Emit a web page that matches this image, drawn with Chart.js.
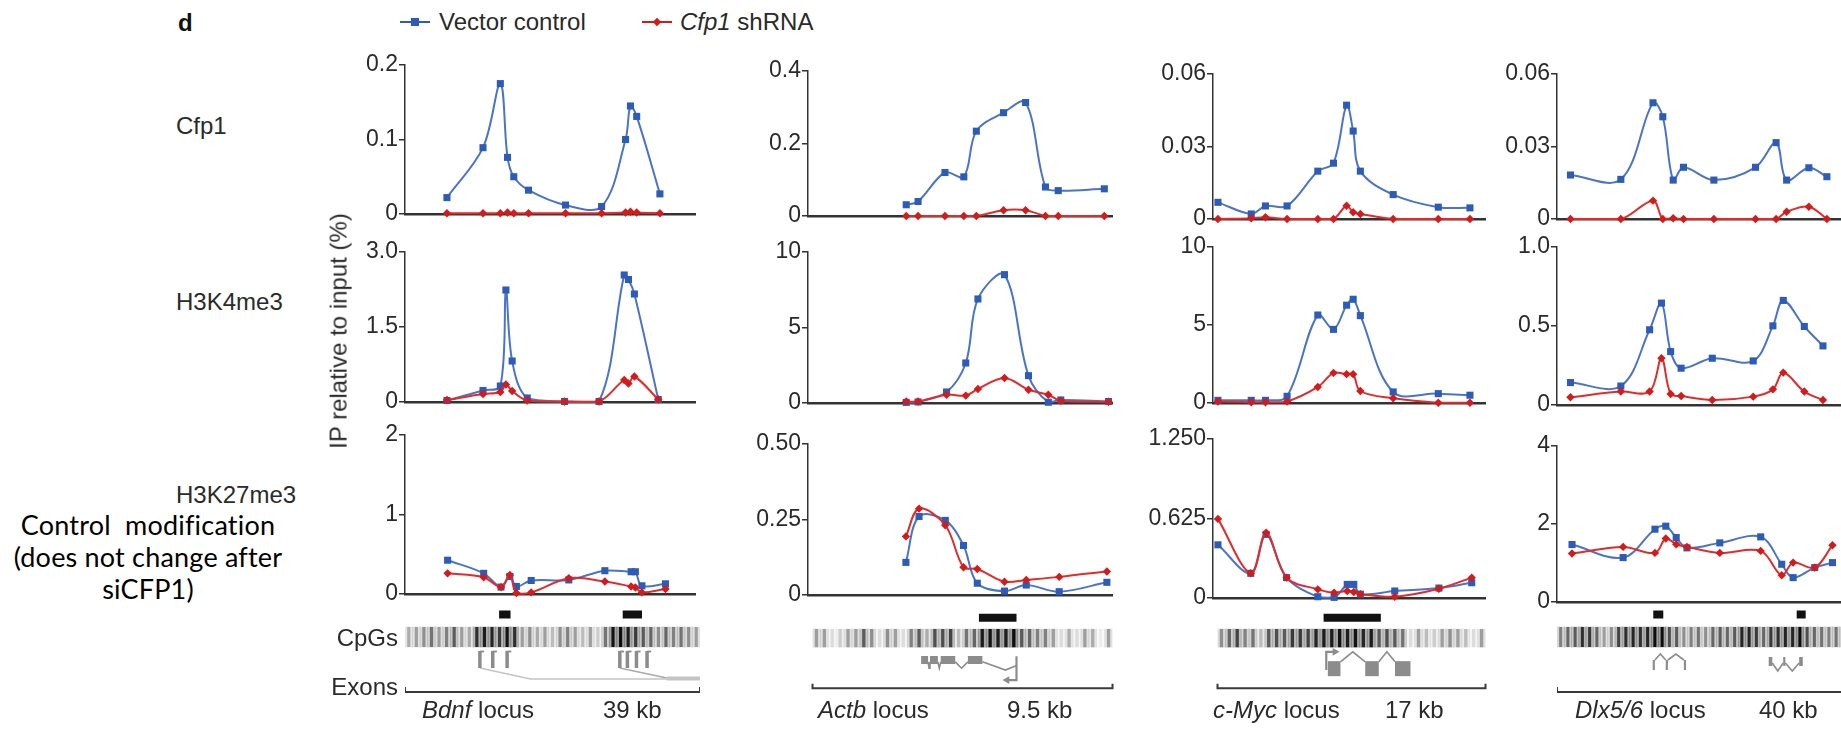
<!DOCTYPE html>
<html><head><meta charset="utf-8">
<script src="https://cdn.jsdelivr.net/npm/chart.js@4.4.0/dist/chart.umd.min.js"></script>
<style>
html,body{margin:0;padding:0;background:#fff;}
body{width:1841px;height:730px;overflow:hidden;position:relative;font-family:"Liberation Sans",Arial,sans-serif;color:#2a2a2a;}
.box{position:absolute;}
.box canvas{display:block;}
.t{position:absolute;white-space:nowrap;line-height:1.2;font-size:24px;transform:translateY(-50%);}
</style></head><body>
<script>
// ================= DATA =================
const rowLabels = ['Cfp1', 'H3K4me3', 'H3K27me3'];
const locusNames = ['Bdnf', 'Actb', 'c-Myc', 'Dlx5/6'];
const locusSizes = [39, 9.5, 17, 40];            // kb
const locusSizeLabels = ['39 kb', '9.5 kb', '17 kb', '40 kb'];
const seriesNames = ['Vector control', 'Cfp1 shRNA'];

// y ticks per column, rows: Cfp1, H3K4me3, H3K27me3
const bdnfTicks = [[0, 0.1, 0.2], [0, 1.5, 3.0], [0, 1, 2]];
const bdnfTickLabels = [['0', '0.1', '0.2'], ['0', '1.5', '3.0'], ['0', '1', '2']];
const actbTicks = [[0, 0.2, 0.4], [0, 5, 10], [0, 0.25, 0.5]];
const actbTickLabels = [['0', '0.2', '0.4'], ['0', '5', '10'], ['0', '0.25', '0.50']];
const mycTicks = [[0, 0.03, 0.06], [0, 5, 10], [0, 0.625, 1.25]];
const mycTickLabels = [['0', '0.03', '0.06'], ['0', '5', '10'], ['0', '0.625', '1.250']];
const dlxTicks = [[0, 0.03, 0.06], [0, 0.5, 1.0], [0, 2, 4]];
const dlxTickLabels = [['0', '0.03', '0.06'], ['0', '0.5', '1.0'], ['0', '2', '4']];

// ---- Bdnf locus (positions in kb) ----
const bdnfCfp1Kb = [5.64, 10.49, 12.82, 13.79, 14.63, 16.61, 21.59, 26.44, 29.66, 30.32, 31.16, 34.28];
const bdnfCfp1Vector = [0.022, 0.089, 0.175, 0.076, 0.050, 0.032, 0.012, 0.010, 0.100, 0.145, 0.131, 0.027];
const bdnfCfp1Sh = [0.001, 0.001, 0.001, 0.002, 0.001, 0.001, 0.001, 0.001, 0.002, 0.003, 0.002, 0.001];
const bdnfK4Kb = [5.64, 10.49, 12.82, 13.57, 14.41, 16.44, 21.46, 26.09, 29.48, 30.05, 30.85, 34.06];
const bdnfK4Vector = [0.03, 0.23, 0.32, 2.24, 0.82, 0.08, 0.01, 0.01, 2.54, 2.45, 2.16, 0.05];
const bdnfK4Sh = [0.04, 0.16, 0.20, 0.35, 0.22, 0.03, 0.01, 0.01, 0.44, 0.37, 0.51, 0.05];
const bdnfK27Kb = [5.73, 10.58, 12.91, 14.10, 14.98, 16.97, 22.03, 26.88, 30.41, 30.98, 31.86, 35.03];
const bdnfK27Vector = [0.425, 0.26, 0.087, 0.22, 0.095, 0.17, 0.177, 0.293, 0.28, 0.28, 0.103, 0.128];
const bdnfK27Sh = [0.26, 0.21, 0.087, 0.24, 0.012, 0.02, 0.198, 0.157, 0.095, 0.082, 0.02, 0.062];

// ---- Actb locus ----
const actbCfp1Kb = [3.07, 3.44, 4.28, 4.87, 5.26, 6.11, 6.80, 7.42, 7.82, 9.26];
const actbCfp1Vector = [0.031, 0.040, 0.120, 0.108, 0.234, 0.285, 0.313, 0.080, 0.070, 0.075];
const actbCfp1Sh = [0, 0, 0, 0, 0, 0.016, 0.016, 0, 0, 0];
const actbK4Kb = [3.07, 3.44, 4.33, 4.93, 5.31, 6.14, 6.89, 7.51, 7.90, 9.39];
const actbK4Vector = [0.04, 0.07, 0.73, 2.65, 6.89, 8.5, 1.81, 0.05, 0.2, 0.1];
const actbK4Sh = [0.1, 0.1, 0.55, 0.49, 0.93, 1.66, 0.88, 0.55, 0.15, 0.08];
const actbK27Kb = [3.06, 3.47, 4.29, 4.86, 5.29, 6.14, 6.82, 7.85, 9.34];
const actbK27Vector = [0.108, 0.26, 0.247, 0.164, 0.039, 0.013, 0.033, 0.011, 0.042];
const actbK27Sh = [0.194, 0.286, 0.231, 0.092, 0.086, 0.044, 0.05, 0.06, 0.078];

// ---- c-Myc locus ----
const mycKb = [0.31, 2.39, 3.28, 4.63, 6.55, 7.53, 8.35, 8.76, 9.21, 11.26, 14.08, 16.06];
const mycCfp1Vector = [0.0069, 0.0021, 0.0054, 0.0054, 0.0198, 0.0231, 0.0471, 0.0364, 0.0198, 0.0101, 0.0049, 0.0046];
const mycCfp1Sh = [0, 0.0003, 0.0007, 0, 0, 0, 0.0055, 0.0028, 0.0021, 0, 0, 0];
const mycK4Vector = [0.17, 0.17, 0.17, 0.43, 5.64, 4.72, 6.27, 6.65, 5.6, 0.71, 0.6, 0.5];
const mycK4Sh = [0.1, 0.05, 0.05, 0.1, 1.03, 1.93, 1.85, 1.85, 0.77, 0.3, 0.02, 0.02];
const mycK27Kb = [0.31, 2.36, 3.32, 4.60, 6.55, 7.57, 8.39, 8.80, 9.21, 11.36, 14.12, 16.17];
const mycK27Vector = [0.418, 0.194, 0.50, 0.16, 0.01, 0.005, 0.107, 0.107, 0.03, 0.055, 0.078, 0.12];
const mycK27Sh = [0.622, 0.194, 0.513, 0.16, 0.068, 0.042, 0.055, 0.047, 0.03, 0.01, 0.073, 0.16];

// ---- Dlx5/6 locus ----
const dlxCfp1Kb = [1.89, 8.96, 13.47, 14.85, 16.31, 17.75, 22.02, 27.86, 30.75, 32.23, 35.35, 37.88];
const dlxCfp1Vector = [0.0182, 0.0164, 0.0481, 0.0423, 0.0161, 0.0214, 0.0161, 0.0214, 0.0316, 0.0161, 0.0212, 0.0175];
const dlxCfp1Sh = [0, 0, 0.0076, 0, 0.0003, 0, 0, 0, 0, 0.003, 0.0051, 0];
const dlxK4Kb = [1.89, 8.96, 13.00, 14.66, 15.95, 17.42, 21.79, 27.54, 30.30, 31.76, 34.71, 37.33];
const dlxK4Vector = [0.142, 0.12, 0.476, 0.645, 0.338, 0.233, 0.296, 0.279, 0.501, 0.662, 0.497, 0.374];
const dlxK4Sh = [0.049, 0.085, 0.085, 0.296, 0.07, 0.057, 0.032, 0.053, 0.099, 0.205, 0.085, 0.032];
const dlxK27Kb = [2.11, 9.28, 13.75, 15.27, 16.73, 18.24, 22.85, 28.59, 31.54, 33.14, 36.17, 38.66];
const dlxK27Vector = [1.473, 1.139, 1.867, 1.944, 1.653, 1.388, 1.516, 1.67, 0.968, 0.625, 0.882, 1.01];
const dlxK27Sh = [1.242, 1.413, 1.259, 1.627, 1.482, 1.413, 1.259, 1.31, 0.685, 1.01, 0.882, 1.456];

// ---- CpG density (0..1) in equal bins across each locus ----
const bdnfCpG = [0.25,0.3,0.35,0.45,0.3,0.4,0.55,0.3,0.25,0.75,0.85,0.8,0.7,0.9,0.75,0.3,0.35,0.25,0.3,0.2,0.35,0.4,0.3,0.2,0.3,0.15,0.45,0.9,0.95,0.85,0.7,0.55,0.5,0.35,0.5,0.4,0.45,0.35,0.3];
const actbCpG = [0.3,0.3,0.1,0.15,0.3,0.3,0.55,0.35,0.1,0.35,0.3,0.1,0.4,0.55,0.25,0.6,0.6,0.65,0.2,0.45,0.5,0.85,0.9,0.85,0.85,0.95,0.55,0.5,0.4,0.4,0.3,0.1,0.25,0.1,0.3,0.25,0.05,0.3];
const mycCpG = [0.35,0.5,0.65,0.4,0.45,0.2,0.55,0.6,0.55,0.7,0.7,0.65,0.8,0.85,0.85,0.9,0.85,0.9,0.8,0.85,0.55,0.6,0.55,0.45,0.1,0.3,0.2,0.15,0.3,0.35,0.3,0.2,0.1,0.3];
const dlxCpG = [0.4,0.5,0.55,0.75,0.7,0.5,0.3,0.35,0.65,0.75,0.8,0.75,0.8,0.95,0.95,0.6,0.55,0.35,0.4,0.45,0.35,0.5,0.55,0.5,0.55,0.8,0.8,0.7,0.5,0.7,0.75,0.8,0.8,0.95,0.6,0.5,0.45,0.4,0.45,0.4];

// ---- CpG islands [start, end] kb ----
const bdnfIslands = [[12.44, 13.95], [28.78, 31.33]];
const actbIslands = [[5.27, 6.46]];
const mycIslands = [[6.73, 10.36]];
const dlxIslands = [[13.28, 14.66], [33.06, 34.30]];

// ---- gene models (kb) ----
const bdnfPromoterExons = [9.9, 11.6, 13.5, 28.4, 29.4, 30.6, 32.0];
const bdnfSpliceJoins = [16.6, 34.6];
const bdnfLastExon = [34.6, 39.2];
const actbExons = [[3.44, 3.66], [3.72, 3.97], [4.06, 4.52], [4.92, 5.38]];
const actbTss = 6.46;
const mycExons = [[7.0, 7.8], [9.37, 10.23], [11.26, 12.24]];
const mycTss = 6.9;
const dlx6Exons = [[13.2, 13.5], [15.0, 15.3], [17.5, 17.8]];
const dlx5Exons = [[29.2, 29.7], [31.2, 31.5], [33.4, 33.9]];

// ================= LAYOUT / STYLE =================
const FONT = '"Liberation Sans", Arial, sans-serif';
const TXT = '#2a2a2a';
const AXIS = '#333333';
const BLUE_LINE = '#4a74c9', BLUE_PT = '#2c5bb8';
const RED_LINE = '#e52a2a', RED_PT = '#d41a1a';
const AXW = 80, PAD = 15;
const colX = [[405, 700], [808, 1117], [1213, 1490], [1557, 1847]];
const panelY = [
  [[65, 213.5], [71, 216], [74, 218.5], [74, 219]],
  [[252, 401.5], [252, 403], [247, 402.7], [247, 404.5]],
  [[435, 594.3], [443.5, 594.3], [439.3, 598.7], [446, 601.5]]
];
const ANN_TOP = 600, ANN_H = 100;
const LANE = {island: 14.5, cpgTop: 27, cpgBot: 47, brTop: 87, br: 92};
const GENE = '#8c8c8c', GENE_LIGHT = '#c4c4c4';

function makeBox(left, top, w, h) {
  const d = document.createElement('div');
  d.className = 'box';
  d.style.left = Math.round(left) + 'px';
  d.style.top = Math.round(top) + 'px';
  d.style.width = Math.round(w) + 'px';
  d.style.height = Math.round(h) + 'px';
  const c = document.createElement('canvas');
  d.appendChild(c);
  document.body.appendChild(d);
  return c;
}

function dataPanel(col, row, kb, vec, sh, ticks, labels) {
  const [x0, x1] = colX[col];
  const [yt, yb] = panelY[row][col];
  const left = x0 - AXW;
  const cv = makeBox(left, yt - PAD, x1 - left, yb - yt + 2 * PAD);
  const pts = v => kb.map((x, i) => ({x: x, y: v[i]}));
  new Chart(cv, {
    type: 'line',
    data: {datasets: [
      {label: seriesNames[1], data: pts(sh), borderColor: RED_LINE, backgroundColor: RED_PT,
       pointBackgroundColor: RED_PT, pointBorderColor: RED_PT, pointStyle: 'rectRot', pointRadius: 4.2,
       pointBorderWidth: 0, borderWidth: 2, tension: 0.35, clip: false},
      {label: seriesNames[0], data: pts(vec), borderColor: BLUE_LINE, backgroundColor: BLUE_PT,
       pointBackgroundColor: BLUE_PT, pointBorderColor: BLUE_PT, pointStyle: 'rect', pointRadius: 5,
       pointBorderWidth: 0, borderWidth: 2, tension: 0.35, clip: false}
    ]},
    options: {
      animation: false, responsive: true, maintainAspectRatio: false,
      layout: {padding: {top: PAD, bottom: PAD, left: 0, right: 0}},
      plugins: {legend: {display: false}, tooltip: {enabled: false}},
      scales: {
        x: {type: 'linear', min: 0, max: locusSizes[col], offset: false,
            grid: {display: false, drawTicks: false}, ticks: {display: false},
            border: {display: true, color: AXIS, width: 2.5},
            afterFit: s => { s.height = 0; }},
        y: {type: 'linear', min: 0, max: ticks[ticks.length - 1],
            afterBuildTicks: s => { s.ticks = ticks.map(v => ({value: v})); },
            afterFit: s => { s.width = AXW; },
            ticks: {callback: (v, i) => labels[i], font: {family: FONT, size: 23}, color: TXT, padding: 1},
            grid: {drawOnChartArea: false, drawTicks: true, tickLength: 6, color: AXIS, lineWidth: 1.5},
            border: {display: true, color: AXIS, width: 1.5}}
      }
    }
  });
}

function seg(points, color, width, extra) {
  return Object.assign({type: 'line', data: points.map(p => ({x: p[0], y: p[1]})),
    borderColor: color, backgroundColor: color, borderWidth: width, pointRadius: 0,
    tension: 0, clip: false, borderCapStyle: 'butt', borderJoinStyle: 'miter', fill: false, order: 0}, extra || {});
}
function arrowHead(x, y, rot) {
  return {type: 'line', data: [{x: x, y: y}], showLine: false, pointStyle: 'triangle', pointRadius: 4.5,
    pointRotation: rot, pointBackgroundColor: GENE, pointBorderColor: GENE, borderWidth: 0, clip: false, order: 0};
}
function introns(exons, kind, base, depth) {
  const out = [];
  for (let i = 0; i < exons.length - 1; i++) {
    const a = exons[i][1], b = exons[i + 1][0];
    out.push(seg([[a, base], [(a + b) / 2, kind === 'hat' ? base - depth : base + depth], [b, base]], GENE, 1.6));
  }
  return out;
}
function exonBars(exons, top, bot) {
  return exons.map(e => seg([[e[0], (top + bot) / 2], [e[1], (top + bot) / 2]], GENE, bot - top));
}

function annotation(col, cpg, islands, genes) {
  const [x0, x1] = colX[col];
  const L = locusSizes[col];
  const cv = makeBox(x0, ANN_TOP, x1 - x0, ANN_H);
  const bw = L / cpg.length;
  const bins = () => cpg.map((a, i) => ({x: (i + 0.5) * bw, y: [LANE.cpgTop, LANE.cpgBot]}));
  const datasets = [
    {type: 'bar', data: bins(), backgroundColor: cpg.map(a => 'rgba(30,30,30,' + (a * 0.45).toFixed(3) + ')'),
     barPercentage: 1, categoryPercentage: 1, grouped: false, order: 6},
    {type: 'bar', data: bins(), backgroundColor: cpg.map(a => 'rgba(12,12,12,' + Math.min(1, a * 1.05).toFixed(3) + ')'),
     barPercentage: 0.42, categoryPercentage: 1, grouped: false, order: 5}
  ];
  islands.forEach(r => datasets.push(seg([[r[0], LANE.island], [r[1], LANE.island]], '#111', 8)));
  datasets.push(seg([[0, LANE.brTop], [0, LANE.br], [L, LANE.br], [L, LANE.brTop]], '#3a3a3a', 2));
  genes.forEach(g => datasets.push(g));
  new Chart(cv, {
    type: 'bar',
    data: {datasets: datasets},
    options: {
      animation: false, responsive: true, maintainAspectRatio: false,
      layout: {padding: 0},
      plugins: {legend: {display: false}, tooltip: {enabled: false}},
      scales: {
        x: {type: 'linear', min: 0, max: L, offset: false, display: false},
        y: {type: 'linear', min: 0, max: ANN_H, reverse: true, display: false}
      }
    }
  });
}

// ---- panels ----
const cols = [
  {rows: [[bdnfCfp1Kb, bdnfCfp1Vector, bdnfCfp1Sh], [bdnfK4Kb, bdnfK4Vector, bdnfK4Sh], [bdnfK27Kb, bdnfK27Vector, bdnfK27Sh]], ticks: bdnfTicks, labels: bdnfTickLabels},
  {rows: [[actbCfp1Kb, actbCfp1Vector, actbCfp1Sh], [actbK4Kb, actbK4Vector, actbK4Sh], [actbK27Kb, actbK27Vector, actbK27Sh]], ticks: actbTicks, labels: actbTickLabels},
  {rows: [[mycKb, mycCfp1Vector, mycCfp1Sh], [mycKb, mycK4Vector, mycK4Sh], [mycK27Kb, mycK27Vector, mycK27Sh]], ticks: mycTicks, labels: mycTickLabels},
  {rows: [[dlxCfp1Kb, dlxCfp1Vector, dlxCfp1Sh], [dlxK4Kb, dlxK4Vector, dlxK4Sh], [dlxK27Kb, dlxK27Vector, dlxK27Sh]], ticks: dlxTicks, labels: dlxTickLabels}
];
cols.forEach((c, ci) => c.rows.forEach((r, ri) => dataPanel(ci, ri, r[0], r[1], r[2], c.ticks[ri], c.labels[ri])));

// ---- gene tracks ----
const bdnfGenes = [];
bdnfPromoterExons.forEach(k => {
  bdnfGenes.push(seg([[k, 51], [k, 68]], GENE, 3.5));
  bdnfGenes.push(seg([[k, 51.5], [k + 0.55, 51.5]], GENE, 1.8));
});
bdnfGenes.push(seg([[bdnfPromoterExons[0], 68], [bdnfSpliceJoins[0], 79], [bdnfLastExon[1], 79]], GENE_LIGHT, 1.6));
bdnfGenes.push(seg([[bdnfPromoterExons[3], 68], [bdnfSpliceJoins[1], 78]], '#aaaaaa', 1.6));
bdnfGenes.push(seg([[bdnfLastExon[0], 78.5], [bdnfLastExon[1], 78.5]], GENE_LIGHT, 4));

const actbGenes = exonBars(actbExons, 57, 65)
  .concat(introns(actbExons, 'vee', 63, 7))
  .concat([seg([[actbExons[actbExons.length - 1][1], 63], [actbTss - 0.35, 72], [actbTss, 67]], GENE, 1.6),
           seg([[actbTss, 57], [actbTss, 83], [actbTss - 0.25, 83]], GENE, 2.2),
           arrowHead(actbTss - 0.3, 83, 270)]);

const mycGenes = exonBars(mycExons, 63, 78)
  .concat(introns(mycExons, 'hat', 63, 11))
  .concat([seg([[mycTss, 72], [mycTss, 52], [mycTss + 0.45, 52]], GENE, 2.2),
           arrowHead(mycTss + 0.55, 52, 90)]);

const dlxGenes = exonBars(dlx6Exons, 60, 70).concat(introns(dlx6Exons, 'hat', 60, 6))
  .concat(exonBars(dlx5Exons, 57, 66)).concat(introns(dlx5Exons, 'vee', 63, 8));

annotation(0, bdnfCpG, bdnfIslands, bdnfGenes);
annotation(1, actbCpG, actbIslands, actbGenes);
annotation(2, mycCpG, mycIslands, mycGenes);
annotation(3, dlxCpG, dlxIslands, dlxGenes);

// ---- text ----
function text(html, left, cy, style) {
  const d = document.createElement('div');
  d.className = 't';
  d.innerHTML = html;
  d.style.left = left + 'px';
  d.style.top = cy + 'px';
  if (style) d.style.cssText += style;
  document.body.appendChild(d);
  return d;
}
text('d', 178, 23, 'font-weight:bold;font-size:24px;color:#111;');
const rowY = [126, 302, 495];
rowLabels.forEach((s, i) => text(s, 176, rowY[i]));
text('CpGs', 398, 638, 'transform:translate(-100%,-50%);');
text('Exons', 398, 687, 'transform:translate(-100%,-50%);');
const locusX = [422, 818, 1213, 1575];
const sizeX = [603, 1007, 1385, 1759];
locusNames.forEach((n, i) => {
  text('<i>' + n + '</i> locus', locusX[i], 710);
  text(locusSizeLabels[i], sizeX[i], 710);
});
// y-axis title
const yt = document.createElement('div');
yt.textContent = 'IP relative to input (%)';
yt.style.cssText = 'position:absolute;left:339px;top:331px;font-size:24px;line-height:1.2;white-space:nowrap;transform:translate(-50%,-50%) rotate(-90deg);color:#2a2a2a;';
document.body.appendChild(yt);
// legend
function legendMark(x, color, diamond) {
  const l = document.createElement('div');
  l.style.cssText = 'position:absolute;left:' + x + 'px;top:21px;width:30px;height:2px;background:' + color + ';';
  document.body.appendChild(l);
  const m = document.createElement('div');
  const s = diamond ? 6 : 8;
  m.style.cssText = 'position:absolute;left:' + (x + 15 - s / 2) + 'px;top:' + (22 - s / 2) + 'px;width:' + s + 'px;height:' + s + 'px;background:' + color + ';' + (diamond ? 'transform:rotate(45deg);' : '');
  document.body.appendChild(m);
}
legendMark(400, BLUE_PT, false);
text(seriesNames[0], 439, 22);
legendMark(642, RED_PT, true);
text('<i>Cfp1</i> shRNA', 680, 22);
// side note
const note = document.createElement('div');
note.innerHTML = 'Control&nbsp; modification<br>(does not change after<br>siCFP1)';
note.style.cssText = 'position:absolute;left:148px;top:557px;transform:translate(-50%,-50%);text-align:center;font-family:Lato,"Open Sans",sans-serif;font-size:27px;letter-spacing:0.2px;line-height:32px;color:#000;white-space:nowrap;';
document.body.appendChild(note);
</script>
</body></html>
